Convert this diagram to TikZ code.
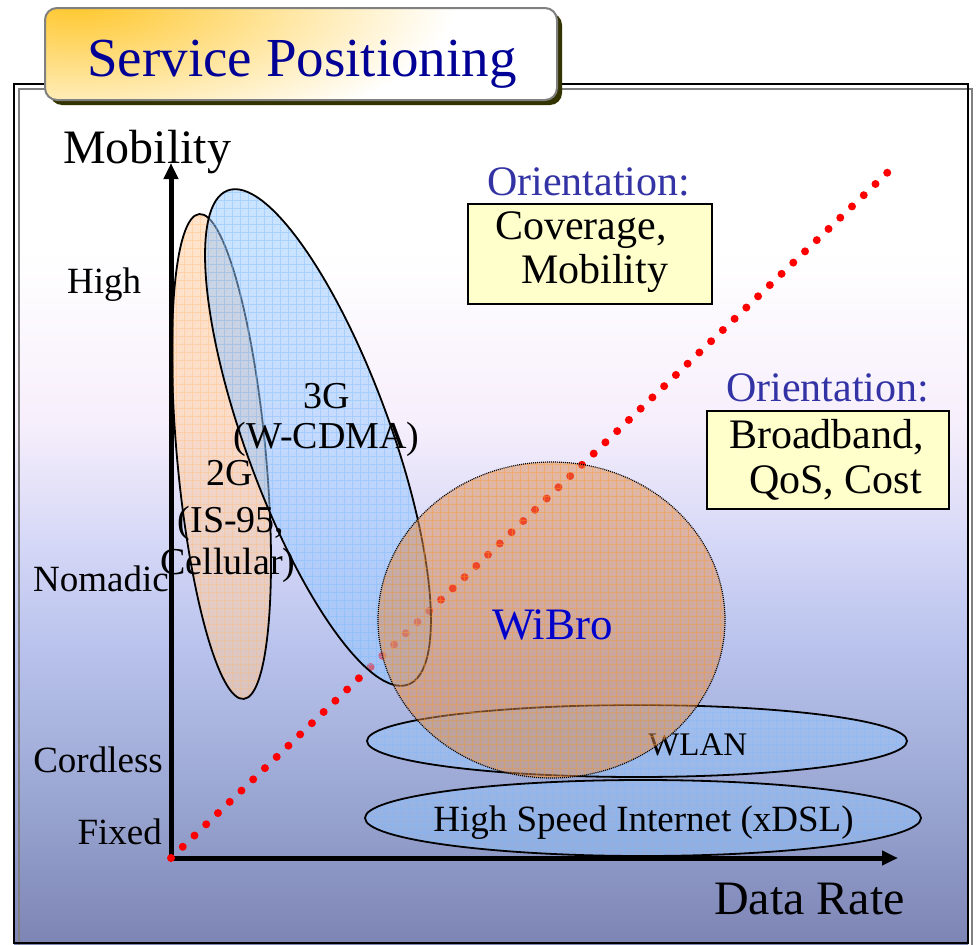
\documentclass[tikz,border=0pt]{standalone}
\usepackage{fontspec}
\setmainfont{Liberation Serif}
\usetikzlibrary{arrows.meta}
\definecolor{titleblue}{RGB}{0,0,150}
\definecolor{orientc}{RGB}{51,51,165}
\definecolor{boxfill}{RGB}{255,255,204}
\definecolor{wibroc}{RGB}{0,0,204}
\definecolor{shadowc}{RGB}{51,51,0}
\definecolor{golden}{RGB}{255,198,40}
\definecolor{bga}{RGB}{247,239,252}
\definecolor{bgb}{RGB}{214,216,247}
\definecolor{bgc}{RGB}{184,194,236}
\definecolor{bgd}{RGB}{154,166,210}
\definecolor{bge}{RGB}{124,132,180}
\definecolor{peach}{RGB}{255,204,160}
\definecolor{peachgrid}{RGB}{255,185,110}
\definecolor{skyb}{RGB}{150,200,255}
\definecolor{skygrid}{RGB}{120,185,255}
\definecolor{wibrof}{RGB}{222,140,80}
\definecolor{wibrogrid}{RGB}{255,150,40}
\tikzset{
  axisline/.style={line width=5pt, draw=black},
  reddots/.style={draw=red, line width=8pt, line cap=round, dash pattern=on 0pt off 16.25pt},
  shapeline/.style={draw=black, line width=1.8pt},
  gridline/.style={line width=0.6pt, xstep=8pt, ystep=8pt},
  lbl/.style={inner sep=0pt, font=\fontsize{37}{37}\selectfont},
  big/.style={inner sep=0pt, font=\fontsize{48}{48}\selectfont},
  orient/.style={inner sep=0pt, text=orientc, font=\fontsize{42}{42}\selectfont},
  boxtxt/.style={inner sep=0pt, font=\fontsize{42}{42}\selectfont},
  obox/.style={draw=black, line width=2.5pt, fill=boxfill, inner sep=0pt},
  gen/.style={inner sep=0pt, font=\fontsize{38}{38}\selectfont},
}
\begin{document}
\begin{tikzpicture}[x=1pt,y=-1pt]
\useasboundingbox (0,0) rectangle (978,945);
\fill[white] (0,0) rectangle (978,945);
% background gradient
\fill[white] (14,84) rectangle (968,250.5);
\fill[top color=white, bottom color=bga] (14,250) rectangle (968,420.5);
\fill[top color=bga, bottom color=bgb] (14,420) rectangle (968,540.5);
\fill[top color=bgb, bottom color=bgc] (14,540) rectangle (968,650.5);
\fill[top color=bgc, bottom color=bgd] (14,650) rectangle (968,800.5);
\fill[top color=bgd, bottom color=bge] (14,800) rectangle (968,945);
% frame
\draw[gray, line width=2pt] (19,89) rectangle (972,955);
\draw[black, line width=2pt] (14,84) rectangle (968,943);
% title box
\fill[shadowc, rounded corners=12pt] (50,13) rectangle (562,105);
\fill[white, rounded corners=12pt] (45,8) rectangle (557,100);
\begin{scope}
  \clip[rounded corners=12pt] (45,8) rectangle (557,100);
  \shade[inner color=golden, outer color=white] (75,0) ellipse [x radius=380pt, y radius=150pt];
\end{scope}
\draw[gray, line width=2pt, rounded corners=12pt] (45,8) rectangle (557,100);
\node[inner sep=0pt, anchor=base, text=titleblue, font=\fontsize{55}{55}\selectfont] (title) at (302,76) {Service Positioning};
% axes
\coordinate (O) at (171,858);
\coordinate (ytop) at (171,163);
\coordinate (xend) at (898,858);
\coordinate (dend) at (888,172);
\draw[axisline, {Triangle[length=16pt,width=14pt]}-{Triangle[length=16pt,width=14pt]}] (ytop) -- (O) -- (xend);
\draw[reddots] (O) -- (dend);
% 2G ellipse
\coordinate (c2g) at (221.5,456.5);
\begin{scope}
  \clip[rotate around={5.24:(c2g)}] (c2g) ellipse [x radius=44.4pt, y radius=243.5pt];
  \fill[peach, opacity=0.55] (150,180) rectangle (300,720);
  \draw[peachgrid, gridline, opacity=0.35] (150,180) grid (300,720);
\end{scope}
\draw[shapeline, rotate around={5.24:(c2g)}] (c2g) ellipse [x radius=44.4pt, y radius=243.5pt];
% 3G ellipse
\coordinate (c3g) at (318,437.5);
\begin{scope}
  \clip[rotate around={20.05:(c3g)}] (c3g) ellipse [x radius=72.4pt, y radius=263pt];
  \fill[skyb, opacity=0.5] (180,170) rectangle (460,710);
  \draw[skygrid, gridline, opacity=0.4] (180,170) grid (460,710);
\end{scope}
\draw[shapeline, rotate around={20.05:(c3g)}] (c3g) ellipse [x radius=72.4pt, y radius=263pt];
% WLAN ellipse
\coordinate (cwl) at (637,741);
\begin{scope}
  \clip (cwl) ellipse [x radius=270pt, y radius=36pt];
  \fill[skyb, opacity=0.45] (360,700) rectangle (915,780);
  \draw[skygrid, gridline, opacity=0.3] (360,700) grid (915,780);
\end{scope}
\draw[shapeline] (cwl) ellipse [x radius=270pt, y radius=36pt];
\node[inner sep=0pt, anchor=base west, font=\fontsize{33}{33}\selectfont] (wlan) at (648,755) {WLAN};
% xDSL ellipse
\coordinate (cxd) at (643,818);
\begin{scope}
  \clip (cxd) ellipse [x radius=278pt, y radius=38pt];
  \fill[skyb, opacity=0.45] (360,775) rectangle (925,860);
  \draw[skygrid, gridline, opacity=0.3] (360,775) grid (925,860);
\end{scope}
\draw[shapeline] (cxd) ellipse [x radius=278pt, y radius=38pt];
\node[inner sep=0pt, anchor=base, font=\fontsize{37}{37}\selectfont] (xdsl) at (643.5,831) {High Speed Internet (xDSL)};
% WiBro circle
\coordinate (cwb) at (551.5,620);
\begin{scope}
  \clip (cwb) ellipse [x radius=173.5pt, y radius=158pt];
  \fill[wibrof, opacity=0.5] (370,455) rectangle (730,785);
  \draw[wibrogrid, gridline, opacity=0.4] (370,455) grid (730,785);
\end{scope}
\draw[black, line width=1.2pt, dash pattern=on 1pt off 1pt] (cwb) ellipse [x radius=173.5pt, y radius=158pt];
\node[inner sep=0pt, anchor=base west, text=wibroc, font=\fontsize{45}{45}\selectfont] (wibro) at (492,639) {WiBro};
% axis labels
\node[big, anchor=base west] (mob) at (63,163) {Mobility};
\node[big, anchor=base west] (drate) at (714,914) {Data Rate};
\node[lbl, anchor=base west] (high) at (67,293) {High};
\node[lbl, anchor=base east] (nom) at (169,591) {Nomadic};
\node[lbl, anchor=base east] (cord) at (163,772) {Cordless};
\node[lbl, anchor=base east] (fix) at (162,844) {Fixed};
% generation labels
\node[gen, anchor=base] (g3) at (326.5,408) {3G};
\node[gen, anchor=base] (g3b) at (326.5,448) {(W-CDMA)};
\node[gen, anchor=base] (g2) at (230,485) {2G};
\node[gen, anchor=base] (g2b) at (231,532) {(IS-95,};
\node[gen, anchor=base] (g2c) at (228,574) {Cellular)};
% orientation boxes
\node[orient, anchor=base west] (or1) at (487,195) {Orientation:};
\node[obox, minimum width=244pt, minimum height=100pt] (box1) at (590,254) {};
\node[boxtxt, anchor=base west] (cov) at (495,239) {Coverage,};
\node[boxtxt, anchor=base west] (mobb) at (521,283) {Mobility};
\node[orient, anchor=base west] (or2) at (726,401) {Orientation:};
\node[obox, minimum width=242pt, minimum height=98pt] (box2) at (828,460) {};
\node[boxtxt, anchor=base west] (bb) at (729,448) {Broadband,};
\node[boxtxt, anchor=base west] (qos) at (749,493) {QoS, Cost};
\end{tikzpicture}
\end{document}
